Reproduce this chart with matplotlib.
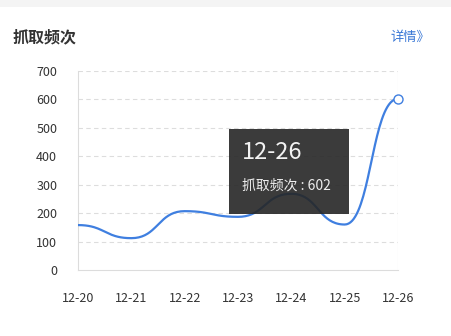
import numpy as np
import matplotlib
matplotlib.use("Agg")
import matplotlib.pyplot as plt
from matplotlib.patches import Rectangle

plt.rcParams['font.family'] = ['Noto Sans CJK SC', 'DejaVu Sans']

# data
dates = ['12-20', '12-21', '12-22', '12-23', '12-24', '12-25', '12-26']
counts = [158, 112, 207, 187, 268, 160, 602]
yticks = [0, 100, 200, 300, 400, 500, 600, 700]
title = '抓取频次'
series_name = '抓取频次'

W, H = 451, 336
fig = plt.figure(figsize=(W / 100, H / 100), dpi=100)
fig.patch.set_facecolor('white')

# top grey band
fig.add_artist(Rectangle((0, 1 - 7 / H), 1, 7 / H, transform=fig.transFigure,
                         color='#f4f4f4', lw=0))

ax = fig.add_axes([78 / W, 1 - 270 / H, 320 / W, 199 / H])
x = np.arange(len(dates))
ax.set_xlim(0, len(dates) - 1)
ax.set_ylim(0, 700)


# monotone-x smoothing: every segment is a bezier with flat ends
def smooth_curve(xs, ys, n=40):
    t = np.linspace(0, 1, n)
    out_x, out_y = [], []
    for i in range(len(xs) - 1):
        x0, x1 = xs[i], xs[i + 1]
        y0, y1 = ys[i], ys[i + 1]
        h = (x1 - x0) * 0.5
        bx = (1 - t) ** 3 * x0 + 3 * (1 - t) ** 2 * t * (x0 + h) + 3 * (1 - t) * t ** 2 * (x1 - h) + t ** 3 * x1
        by = (1 - t) ** 3 * y0 + 3 * (1 - t) ** 2 * t * y0 + 3 * (1 - t) * t ** 2 * y1 + t ** 3 * y1
        if i:
            bx, by = bx[1:], by[1:]
        out_x.append(bx)
        out_y.append(by)
    return np.concatenate(out_x), np.concatenate(out_y)


cx, cy = smooth_curve(x.astype(float), np.array(counts, float))
line_color = '#3f7fe0'
ax.plot(cx, cy, color=line_color, lw=1.6, zorder=3, solid_capstyle='round')
ax.plot(x[-1], counts[-1], 'o', ms=6.5, mfc='white', mec=line_color, mew=1.0,
        zorder=4, clip_on=False)

for v in yticks[1:]:
    ax.axhline(v, color='#dddddd', lw=0.8, ls=(0, (4, 3)), zorder=1)
ax.axvline(len(dates) - 1, color='#dcdcdc', lw=0.8, zorder=1)

for s in ['top', 'right']:
    ax.spines[s].set_visible(False)
for s in ['left', 'bottom']:
    ax.spines[s].set_color('#dcdcdc')
    ax.spines[s].set_linewidth(0.8)

ax.set_xticks(x)
ax.set_xticklabels(dates)
ax.set_yticks(yticks)
ax.tick_params(length=0, labelsize=9, colors='#333333')
ax.tick_params(axis='x', pad=15.5)
ax.tick_params(axis='y', pad=15)

# title and link
fig.text(12 / W, 1 - 37 / H, title, fontsize=11.5, fontweight='bold',
         color='#333333', va='center', ha='left')
fig.text(430 / W, 1 - 37 / H, '详情》', fontsize=9.5, color='#3a78d6',
         va='center', ha='right')

# tooltip
bx0, by0, bw, bh = 229, 129, 120, 85
fig.add_artist(Rectangle((bx0 / W, 1 - (by0 + bh) / H), bw / W, bh / H,
                         transform=fig.transFigure, color='#262626', alpha=0.9,
                         lw=0, zorder=10))
fig.text((bx0 + 13) / W, 1 - 153 / H, dates[-1], fontsize=17, color='#f2f2f2',
         va='center', ha='left', zorder=11)
fig.text((bx0 + 13) / W, 1 - 186 / H, f'{series_name} : {counts[-1]}',
         fontsize=10, color='#eeeeee', va='center', ha='left', zorder=11)

fig.savefig('out.png', dpi=100)
